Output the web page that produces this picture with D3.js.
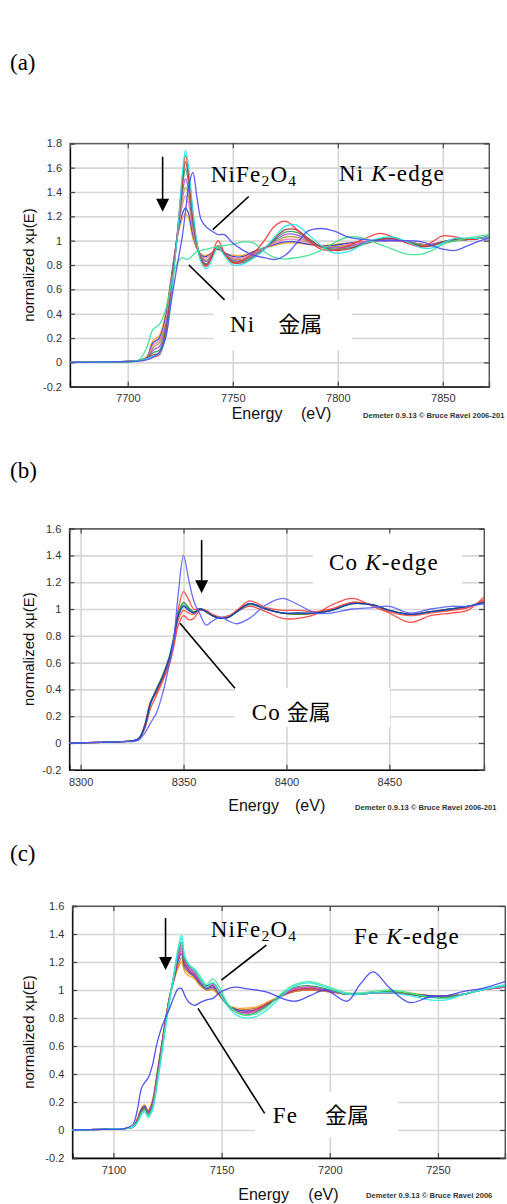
<!DOCTYPE html>
<html>
<head>
<meta charset="utf-8">
<script src="https://cdn.jsdelivr.net/npm/d3@7"></script>
<style>
body { margin: 0; background: #fff; }
svg { display: block; }
.serif { font-family: "Liberation Serif", "DejaVu Serif", serif; fill: #000; }
.cjk { font-family: "Noto Sans CJK JP", sans-serif; fill: #000; }
.sans { font-family: "Liberation Sans", Arial, sans-serif; }
</style>
</head>
<body>
<svg id="chart" width="507" height="1204"></svg>
<script>
// ---------- (a) Ni K-edge ----------
var aEnergy = [7672, 7695, 7705, 7709, 7712, 7715, 7718, 7720, 7722, 7724, 7726, 7727.5, 7729, 7731, 7733, 7735, 7737.5, 7740, 7743, 7746, 7750, 7755, 7760, 7765, 7770, 7775, 7780, 7786, 7792, 7798, 7805, 7812, 7820, 7826, 7833, 7840, 7845, 7850, 7856, 7862, 7868, 7872];
var aNiFe2O4 = [0, 0.005, 0.01, 0.02, 0.04, 0.08, 0.2, 0.42, 0.64, 0.84, 1.04, 1.24, 1.45, 1.56, 1.35, 1.17, 1.11, 1.08, 1.05, 1.05, 0.98, 0.92, 0.88, 0.86, 0.845, 0.88, 0.97, 1.08, 1.1, 1.08, 1.03, 1.01, 1.0, 1.0, 1.0, 0.99, 0.96, 0.93, 0.92, 0.96, 1.0, 1.02];
var aNiMetal = [0, 0.005, 0.015, 0.12, 0.27, 0.31, 0.43, 0.58, 0.74, 0.83, 0.86, 0.85, 0.85, 0.88, 0.91, 0.92, 0.93, 0.94, 0.95, 0.96, 0.97, 0.99, 0.98, 0.91, 0.86, 0.85, 0.86, 0.88, 0.92, 0.98, 1.03, 1.02, 0.97, 0.93, 0.89, 0.89, 0.92, 0.97, 1.0, 1.02, 1.04, 1.05];
var aCyan = [0, 0.005, 0.015, 0.03, 0.05, 0.07, 0.2, 0.42, 0.75, 1.12, 1.55, 1.74, 1.6, 1.25, 0.98, 0.82, 0.77, 0.84, 0.95, 0.88, 0.8, 0.81, 0.86, 0.93, 1.03, 1.12, 1.13, 1.05, 0.96, 0.9, 0.91, 0.97, 1.02, 1.03, 0.99, 0.94, 0.94, 0.98, 1.02, 1.02, 1.02, 1.04];
var aRed = [0, 0.005, 0.015, 0.03, 0.045, 0.06, 0.22, 0.45, 0.78, 1.13, 1.52, 1.70, 1.56, 1.22, 0.97, 0.83, 0.79, 0.88, 1.0, 0.9, 0.82, 0.84, 0.9, 1.0, 1.12, 1.16, 1.1, 1.0, 0.93, 0.92, 0.96, 1.01, 1.06, 1.03, 0.98, 0.95, 0.99, 1.04, 1.03, 1.01, 1.02, 1.04];
var aMaroon = [0, 0.005, 0.015, 0.035, 0.06, 0.08, 0.24, 0.47, 0.79, 1.12, 1.48, 1.65, 1.52, 1.2, 0.97, 0.84, 0.8, 0.86, 0.96, 0.89, 0.82, 0.82, 0.86, 0.93, 1.02, 1.09, 1.09, 1.02, 0.95, 0.92, 0.93, 0.97, 1.01, 1.02, 0.99, 0.95, 0.96, 0.99, 1.01, 1.01, 1.02, 1.04];
var aGreen = [0, 0.005, 0.015, 0.035, 0.08, 0.1, 0.26, 0.49, 0.8, 1.11, 1.44, 1.59, 1.47, 1.17, 0.96, 0.85, 0.81, 0.87, 0.95, 0.89, 0.83, 0.83, 0.87, 0.93, 1.01, 1.07, 1.07, 1.01, 0.95, 0.93, 0.94, 0.97, 1.01, 1.02, 0.99, 0.96, 0.96, 0.99, 1.01, 1.01, 1.02, 1.04];
var aPurple = [0, 0.005, 0.015, 0.035, 0.1, 0.13, 0.29, 0.51, 0.81, 1.1, 1.39, 1.51, 1.41, 1.14, 0.96, 0.86, 0.83, 0.88, 0.95, 0.89, 0.84, 0.84, 0.88, 0.94, 1.0, 1.05, 1.05, 1.0, 0.95, 0.94, 0.95, 0.98, 1.01, 1.01, 0.99, 0.96, 0.97, 0.99, 1.01, 1.01, 1.02, 1.04];
var aOlive = [0, 0.005, 0.015, 0.035, 0.12, 0.16, 0.31, 0.54, 0.82, 1.09, 1.34, 1.44, 1.36, 1.11, 0.95, 0.87, 0.84, 0.89, 0.94, 0.89, 0.85, 0.85, 0.89, 0.94, 0.99, 1.03, 1.03, 0.99, 0.95, 0.95, 0.96, 0.98, 1.0, 1.01, 0.99, 0.97, 0.97, 0.99, 1.0, 1.01, 1.02, 1.03];
var aPink = [0, 0.005, 0.015, 0.04, 0.14, 0.18, 0.34, 0.57, 0.83, 1.08, 1.29, 1.37, 1.3, 1.08, 0.94, 0.87, 0.86, 0.9, 0.94, 0.89, 0.86, 0.86, 0.9, 0.94, 0.98, 1.01, 1.01, 0.98, 0.96, 0.95, 0.97, 0.99, 1.0, 1.0, 0.99, 0.97, 0.97, 0.99, 1.0, 1.01, 1.02, 1.03];
var aBlue = [0, 0.005, 0.015, 0.04, 0.16, 0.2, 0.37, 0.6, 0.85, 1.07, 1.22, 1.27, 1.22, 1.05, 0.94, 0.88, 0.87, 0.9, 0.93, 0.9, 0.87, 0.87, 0.91, 0.94, 0.97, 0.99, 0.99, 0.97, 0.96, 0.96, 0.98, 0.99, 1.0, 1.0, 0.99, 0.97, 0.97, 0.99, 1.0, 1.01, 1.02, 1.03];
var aOrange = [0, 0.005, 0.015, 0.045, 0.18, 0.22, 0.4, 0.62, 0.86, 1.06, 1.18, 1.22, 1.18, 1.02, 0.93, 0.89, 0.88, 0.9, 0.93, 0.9, 0.88, 0.88, 0.91, 0.94, 0.96, 0.98, 0.98, 0.97, 0.96, 0.97, 0.98, 0.99, 1.0, 1.0, 0.99, 0.97, 0.97, 0.99, 1.0, 1.01, 1.02, 1.03];
var aXTicks = [7700, 7750, 7800, 7850];
var aYTicks = [-0.2, 0, 0.2, 0.4, 0.6, 0.8, 1, 1.2, 1.4, 1.6, 1.8];

// ---------- (b) Co K-edge ----------
var bEnergy = [8294.5, 8310, 8320, 8328, 8331, 8334, 8337, 8340, 8343, 8345, 8347.5, 8350, 8352.5, 8355, 8358, 8361, 8364, 8368, 8372, 8376, 8382, 8390, 8398, 8406, 8414, 8422, 8432, 8442, 8450, 8460, 8470, 8480, 8488, 8496];
var bLightBlue = [0, 0.005, 0.01, 0.02, 0.07, 0.15, 0.23, 0.38, 0.58, 0.74, 1.12, 1.40, 1.22, 1.06, 0.96, 0.88, 0.91, 0.94, 0.91, 0.89, 0.93, 1.03, 1.08, 1.03, 0.97, 0.97, 1.0, 1.01, 1.02, 0.97, 1.0, 1.02, 1.02, 1.04];
var bRedHigh = [0, 0.005, 0.01, 0.03, 0.1, 0.26, 0.36, 0.47, 0.61, 0.76, 1.0, 1.13, 1.07, 1.0, 1.0, 0.99, 0.96, 0.94, 0.95, 0.99, 1.06, 1.01, 0.99, 0.99, 0.98, 1.0, 1.05, 1.03, 0.99, 0.96, 0.98, 0.99, 1.01, 1.06];
var bRedMid = [0, 0.005, 0.01, 0.03, 0.13, 0.31, 0.39, 0.49, 0.6, 0.72, 0.92, 0.99, 0.97, 0.96, 1.0, 0.98, 0.95, 0.93, 0.94, 0.99, 1.04, 1.0, 0.97, 0.96, 0.97, 1.0, 1.05, 1.03, 0.98, 0.95, 0.97, 0.99, 1.01, 1.07];
var bCoMetal = [0, 0.005, 0.01, 0.03, 0.12, 0.3, 0.38, 0.47, 0.58, 0.7, 0.88, 0.95, 0.92, 0.93, 0.99, 0.98, 0.95, 0.93, 0.94, 0.98, 1.02, 0.98, 0.93, 0.93, 0.96, 1.03, 1.08, 1.02, 0.97, 0.9, 0.95, 0.97, 0.99, 1.09];
var bGreen = [0, 0.005, 0.01, 0.03, 0.12, 0.3, 0.41, 0.51, 0.64, 0.77, 0.97, 1.05, 1.01, 0.98, 1.0, 0.98, 0.95, 0.93, 0.94, 0.98, 1.04, 1.0, 0.97, 0.96, 0.97, 0.99, 1.04, 1.03, 0.99, 0.96, 0.98, 1.0, 1.02, 1.05];
var bTeal = [0, 0.005, 0.01, 0.03, 0.11, 0.29, 0.4, 0.5, 0.63, 0.76, 0.96, 1.03, 1.0, 0.97, 1.0, 0.98, 0.95, 0.93, 0.94, 0.98, 1.03, 1.0, 0.97, 0.97, 0.97, 0.99, 1.04, 1.03, 0.99, 0.96, 0.98, 1.0, 1.02, 1.04];
var bDarkBlue = [0, 0.005, 0.01, 0.03, 0.12, 0.3, 0.4, 0.5, 0.63, 0.76, 0.95, 1.02, 0.99, 0.97, 1.0, 0.98, 0.95, 0.93, 0.94, 0.98, 1.04, 1.0, 0.97, 0.97, 0.97, 0.99, 1.04, 1.03, 0.99, 0.96, 0.98, 1.0, 1.02, 1.05];
var bXTicks = [8300, 8350, 8400, 8450];
var bYTicks = [-0.2, 0, 0.2, 0.4, 0.6, 0.8, 1, 1.2, 1.4, 1.6];

// ---------- (c) Fe K-edge ----------
var cEnergy = [7081, 7095, 7105, 7109, 7111, 7113, 7114.5, 7116, 7118, 7120, 7122, 7124, 7126, 7128, 7130, 7131.5, 7133, 7135, 7137.5, 7140, 7143, 7146, 7149, 7153, 7157, 7161, 7166, 7172, 7178, 7184, 7191, 7198, 7208, 7214, 7220, 7228, 7237, 7246, 7254, 7262, 7270, 7281];
var cFeMetal = [0, 0.005, 0.01, 0.04, 0.14, 0.3, 0.34, 0.37, 0.46, 0.61, 0.72, 0.8, 0.87, 0.95, 1.01, 1.01, 0.96, 0.91, 0.89, 0.91, 0.93, 0.94, 0.98, 1.01, 1.02, 1.01, 1.0, 0.98, 0.94, 0.92, 0.96, 1.0, 0.92, 1.04, 1.13, 1.01, 0.91, 0.95, 0.96, 0.99, 1.01, 1.06];
var cCyan = [0, 0.005, 0.01, 0.02, 0.05, 0.11, 0.13, 0.09, 0.14, 0.3, 0.5, 0.72, 0.92, 1.1, 1.3, 1.39, 1.24, 1.18, 1.14, 1.08, 1.02, 1.05, 0.98, 0.88, 0.82, 0.8, 0.81, 0.87, 0.96, 1.03, 1.05, 1.02, 0.97, 0.97, 0.98, 0.98, 0.96, 0.93, 0.93, 0.97, 1.0, 1.04];
var cSpring = [0, 0.005, 0.01, 0.02, 0.05, 0.12, 0.14, 0.1, 0.15, 0.32, 0.52, 0.74, 0.94, 1.12, 1.3, 1.37, 1.23, 1.18, 1.15, 1.1, 1.04, 1.08, 1.02, 0.9, 0.84, 0.82, 0.83, 0.89, 0.98, 1.04, 1.06, 1.03, 0.98, 0.98, 0.99, 1.0, 0.98, 0.95, 0.94, 0.97, 1.0, 1.03];
var cGreen = [0, 0.005, 0.01, 0.02, 0.06, 0.13, 0.15, 0.11, 0.16, 0.33, 0.53, 0.74, 0.94, 1.11, 1.28, 1.34, 1.22, 1.17, 1.14, 1.08, 1.03, 1.05, 0.99, 0.89, 0.84, 0.82, 0.84, 0.9, 0.97, 1.02, 1.03, 1.01, 0.97, 0.97, 0.98, 0.99, 0.97, 0.95, 0.95, 0.97, 1.0, 1.03];
var cMagenta = [0, 0.005, 0.01, 0.02, 0.06, 0.13, 0.15, 0.11, 0.17, 0.34, 0.54, 0.75, 0.94, 1.1, 1.26, 1.32, 1.21, 1.16, 1.13, 1.07, 1.03, 1.04, 0.98, 0.89, 0.84, 0.83, 0.85, 0.9, 0.97, 1.01, 1.02, 1.0, 0.97, 0.97, 0.98, 0.98, 0.97, 0.95, 0.95, 0.97, 1.0, 1.02];
var cPurple = [0, 0.005, 0.01, 0.02, 0.06, 0.14, 0.16, 0.12, 0.18, 0.35, 0.55, 0.76, 0.95, 1.1, 1.25, 1.3, 1.2, 1.15, 1.12, 1.06, 1.02, 1.03, 0.98, 0.89, 0.85, 0.84, 0.85, 0.9, 0.96, 1.01, 1.02, 1.0, 0.97, 0.97, 0.98, 0.98, 0.97, 0.95, 0.95, 0.97, 1.0, 1.02];
var cRed = [0, 0.005, 0.01, 0.02, 0.07, 0.14, 0.16, 0.12, 0.18, 0.36, 0.56, 0.76, 0.95, 1.09, 1.23, 1.28, 1.19, 1.14, 1.11, 1.06, 1.02, 1.03, 0.97, 0.89, 0.85, 0.84, 0.86, 0.91, 0.96, 1.0, 1.01, 1.0, 0.97, 0.97, 0.98, 0.98, 0.97, 0.95, 0.95, 0.97, 1.0, 1.02];
var cBlue = [0, 0.005, 0.01, 0.02, 0.07, 0.15, 0.17, 0.13, 0.19, 0.37, 0.57, 0.77, 0.95, 1.08, 1.21, 1.26, 1.17, 1.13, 1.1, 1.05, 1.01, 1.02, 0.97, 0.89, 0.86, 0.85, 0.86, 0.91, 0.96, 1.0, 1.01, 1.0, 0.97, 0.97, 0.98, 0.98, 0.97, 0.96, 0.95, 0.97, 1.0, 1.02];
var cBrown = [0, 0.005, 0.01, 0.02, 0.07, 0.15, 0.17, 0.13, 0.2, 0.38, 0.58, 0.78, 0.95, 1.07, 1.18, 1.23, 1.15, 1.12, 1.09, 1.04, 1.0, 1.01, 0.96, 0.89, 0.86, 0.86, 0.87, 0.91, 0.96, 0.99, 1.0, 0.99, 0.97, 0.97, 0.98, 0.98, 0.97, 0.96, 0.96, 0.97, 1.0, 1.02];
var cOrange = [0, 0.005, 0.01, 0.02, 0.08, 0.16, 0.18, 0.14, 0.21, 0.39, 0.59, 0.79, 0.96, 1.07, 1.16, 1.2, 1.13, 1.1, 1.08, 1.03, 1.0, 1.0, 0.96, 0.89, 0.87, 0.87, 0.88, 0.92, 0.96, 0.99, 1.0, 0.99, 0.97, 0.97, 0.98, 0.98, 0.98, 0.96, 0.96, 0.97, 1.0, 1.02];
var cXTicks = [7100, 7150, 7200, 7250];
var cYTicks = [-0.2, 0, 0.2, 0.4, 0.6, 0.8, 1, 1.2, 1.4, 1.6];

var panels = [
  {
    id: "a", tag: "(a)", tagY: 70,
    left: 70, right: 489, top: 143.3, bottom: 386.7,
    xDomain: [7672.5, 7872], yMax: 1.8, xTicks: aXTicks, yTicks: aYTicks,
    energy: aEnergy,
    curves: [
      {v: aOrange, c: "#ffa21a"}, {v: aBlue, c: "#2a3ccc"}, {v: aPink, c: "#ff74b4"},
      {v: aOlive, c: "#a0a040"}, {v: aPurple, c: "#a848e0"}, {v: aGreen, c: "#2e9a58"},
      {v: aMaroon, c: "#b03030"}, {v: aRed, c: "#ff3030"}, {v: aCyan, c: "#18e8f0"},
      {v: aNiMetal, c: "#38e08c"}, {v: aNiFe2O4, c: "#4a4cf4"}
    ],
    boxes: [[213, 300, 352, 350]],
    leaders: [[7757.6, 1.363, 7740.5, 1.09], [7729.1, 0.80, 7746.1, 0.513]],
    arrow: [7716.6, 1.69, 1.237],
    texts: [
      {k: "nife", x: 210.7, y: 181.7},
      {k: "edge", el: "Ni", x: 339, y: 180.7},
      {k: "metal", el: "Ni", x: 230, cx: 278.3, y: 331.7}
    ],
    xlab: [231.7, 301, 419], demeter: [363, 417.5, "Demeter 0.9.13 \u00a9 Bruce Ravel 2006-201"]
  },
  {
    id: "b", tag: "(b)", tagY: 478,
    left: 69.3, right: 484, top: 528.6, bottom: 769.8,
    xDomain: [8294.5, 8496], yMax: 1.6, xTicks: bXTicks, yTicks: bYTicks,
    energy: bEnergy,
    curves: [
      {v: bRedMid, c: "#ff4a4a"}, {v: bCoMetal, c: "#ff3a3a"}, {v: bRedHigh, c: "#ff4444"},
      {v: bTeal, c: "#1a9a9a"}, {v: bGreen, c: "#2c8c2c"}, {v: bDarkBlue, c: "#1838c0"},
      {v: bLightBlue, c: "#5a5cff"}
    ],
    boxes: [[313, 530, 462, 588], [235, 688, 390, 727]],
    leaders: [[8348.3, 0.893, 8375.0, 0.408]],
    arrow: [8358.8, 1.515, 1.117],
    texts: [
      {k: "edge", el: "Co", x: 329, y: 570},
      {k: "metal", el: "Co", x: 251.7, cx: 286.7, y: 720}
    ],
    xlab: [228.3, 295, 810.5], demeter: [355, 809.5, "Demeter 0.9.13 \u00a9 Bruce Ravel 2006-201"]
  },
  {
    id: "c", tag: "(c)", tagY: 861,
    left: 72.3, right: 505, top: 906, bottom: 1158,
    xDomain: [7081, 7281], yMax: 1.6, xTicks: cXTicks, yTicks: cYTicks,
    energy: cEnergy,
    curves: [
      {v: cOrange, c: "#ff9c10"}, {v: cBrown, c: "#c87038"}, {v: cBlue, c: "#2c40d0"},
      {v: cRed, c: "#e83a3a"}, {v: cPurple, c: "#9848c8"}, {v: cMagenta, c: "#e848c0"},
      {v: cGreen, c: "#28a048"}, {v: cSpring, c: "#40e890"}, {v: cCyan, c: "#30e4ec"},
      {v: cFeMetal, c: "#4040ee"}
    ],
    boxes: [[255, 1092, 398, 1137]],
    leaders: [[7170.7, 1.321, 7149.9, 1.071], [7139.1, 0.869, 7169.9, 0.119]],
    arrow: [7124.1, 1.514, 1.143],
    texts: [
      {k: "nife", x: 210.7, y: 936.7},
      {k: "edge", el: "Fe", x: 354, y: 944},
      {k: "metal", el: "Fe", x: 272.7, cx: 325, y: 1123}
    ],
    xlab: [238.3, 308.3, 1200], demeter: [366, 1198, "Demeter 0.9.13 \u00a9 Bruce Ravel 2006"]
  }
];

var svg = d3.select("#chart");

function fmt(d) { return String(+d.toFixed(1)); }

function draw_panel(p) {
  var x = d3.scaleLinear().domain(p.xDomain).range([p.left, p.right]);
  var y = d3.scaleLinear().domain([-0.2, p.yMax]).range([p.bottom, p.top]);
  var w = p.right - p.left, h = p.bottom - p.top;
  var g = svg.append("g");

  g.append("clipPath").attr("id", "clip-" + p.id)
    .append("rect").attr("x", p.left).attr("y", p.top).attr("width", w).attr("height", h);

  // grid lines
  var gx = g.append("g").attr("transform", "translate(0," + p.bottom + ")")
    .call(d3.axisBottom(x).tickValues(p.xTicks).tickSize(-h).tickFormat(""));
  var gy = g.append("g").attr("transform", "translate(" + p.left + ",0)")
    .call(d3.axisLeft(y).tickValues(p.yTicks).tickSize(-w).tickFormat(""));
  [gx, gy].forEach(function(a) {
    a.select(".domain").remove();
    a.selectAll("line").attr("stroke", "#d6d6d6").attr("stroke-width", 1.6);
  });

  // white boxes behind the labels
  g.selectAll(".box").data(p.boxes).enter().append("rect")
    .attr("x", function(b) { return b[0]; }).attr("y", function(b) { return b[1]; })
    .attr("width", function(b) { return b[2] - b[0]; }).attr("height", function(b) { return b[3] - b[1]; })
    .attr("fill", "#fff");

  // frame
  g.append("rect").attr("x", p.left).attr("y", p.top).attr("width", w).attr("height", h)
    .attr("fill", "none").attr("stroke", "#666").attr("stroke-width", 1);

  // axes with inward ticks
  var bottomAx = g.append("g").attr("transform", "translate(0," + p.bottom + ")")
    .call(d3.axisBottom(x).tickValues(p.xTicks).tickSize(-5).tickPadding(8).tickFormat(d3.format("d")));
  var leftAx = g.append("g").attr("transform", "translate(" + p.left + ",0)")
    .call(d3.axisLeft(y).tickValues(p.yTicks).tickSize(-5).tickPadding(8).tickFormat(fmt));
  var topAx = g.append("g").attr("transform", "translate(0," + p.top + ")")
    .call(d3.axisTop(x).tickValues(p.xTicks).tickSize(-5).tickFormat(""));
  var rightAx = g.append("g").attr("transform", "translate(" + p.right + ",0)")
    .call(d3.axisRight(y).tickValues(p.yTicks).tickSize(-5).tickFormat(""));
  [bottomAx, leftAx, topAx, rightAx].forEach(function(a) {
    a.attr("font-family", "Liberation Sans, Arial, sans-serif").attr("font-size", 11);
    a.selectAll("text").attr("fill", "#333");
    a.selectAll(".tick line").attr("stroke", "#444").attr("stroke-width", 1.2);
  });
  bottomAx.select(".domain").attr("stroke", "#000").attr("stroke-width", 1.3);
  leftAx.select(".domain").attr("stroke", "#000").attr("stroke-width", 1.3);
  topAx.select(".domain").attr("stroke", "#555");
  rightAx.select(".domain").attr("stroke", "#555");

  // spectra
  var line = d3.line()
    .x(function(d) { return x(d[0]); })
    .y(function(d) { return y(d[1]); })
    .curve(d3.curveCatmullRom.alpha(0.5));
  g.append("g").attr("clip-path", "url(#clip-" + p.id + ")")
    .selectAll("path").data(p.curves).enter().append("path")
    .attr("d", function(c) { return line(d3.zip(p.energy, c.v)); })
    .attr("fill", "none")
    .attr("stroke", function(c) { return c.c; })
    .attr("stroke-width", 1.3)
    .attr("stroke-opacity", 0.9);

  // leader lines
  g.selectAll(".leader").data(p.leaders).enter().append("line")
    .attr("x1", function(l) { return x(l[0]); }).attr("y1", function(l) { return y(l[1]); })
    .attr("x2", function(l) { return x(l[2]); }).attr("y2", function(l) { return y(l[3]); })
    .attr("stroke", "#000").attr("stroke-width", 1.6);

  // arrow
  var ax = x(p.arrow[0]), ay0 = y(p.arrow[1]), ay1 = y(p.arrow[2]);
  g.append("line").attr("x1", ax).attr("x2", ax).attr("y1", ay0).attr("y2", ay1 - 10)
    .attr("stroke", "#000").attr("stroke-width", 1.6);
  g.append("path")
    .attr("d", "M" + (ax - 6.5) + "," + (ay1 - 13) + "L" + (ax + 6.5) + "," + (ay1 - 13) + "L" + ax + "," + ay1 + "Z")
    .attr("fill", "#000");

  // annotation texts
  p.texts.forEach(function(t) {
    if (t.k === "nife") {
      var tx = g.append("text").attr("class", "serif").attr("x", t.x).attr("y", t.y)
        .attr("font-size", 23).attr("letter-spacing", 1.2);
      tx.append("tspan").text("NiFe");
      tx.append("tspan").attr("font-size", 15.5).attr("dy", 4).text("2");
      tx.append("tspan").attr("dy", -4).text("O");
      tx.append("tspan").attr("font-size", 15.5).attr("dy", 4).text("4");
    } else if (t.k === "edge") {
      var te = g.append("text").attr("class", "serif").attr("x", t.x).attr("y", t.y)
        .attr("font-size", 23).attr("letter-spacing", 1.2);
      te.append("tspan").text(t.el + " ");
      te.append("tspan").attr("font-style", "italic").text("K");
      te.append("tspan").text("-edge");
    } else {
      g.append("text").attr("class", "serif").attr("x", t.x).attr("y", t.y)
        .attr("font-size", 23).attr("letter-spacing", 1.2).text(t.el);
      g.append("text").attr("class", "cjk").attr("x", t.cx).attr("y", t.y)
        .attr("font-size", 22).text("金属");
    }
  });

  // panel tag
  g.append("text").attr("class", "serif").attr("x", 10).attr("y", p.tagY)
    .attr("font-size", 23).text(p.tag);

  // axis titles
  g.append("text").attr("class", "sans")
    .attr("transform", "translate(34," + (p.top + h / 2) + ") rotate(-90)")
    .attr("text-anchor", "middle").attr("font-size", 15).attr("fill", "#111")
    .text("normalized x\u03bc(E)");
  g.append("text").attr("class", "sans").attr("x", p.xlab[0]).attr("y", p.xlab[2])
    .attr("font-size", 16).attr("fill", "#111").text("Energy");
  g.append("text").attr("class", "sans").attr("x", p.xlab[1]).attr("y", p.xlab[2])
    .attr("font-size", 16).attr("fill", "#111").text("(eV)");
  g.append("text").attr("class", "sans").attr("x", p.demeter[0]).attr("y", p.demeter[1])
    .attr("font-size", 7.6).attr("font-weight", "bold").attr("fill", "#333")
    .text(p.demeter[2]);
}

panels.forEach(draw_panel);
</script>
</body>
</html>
